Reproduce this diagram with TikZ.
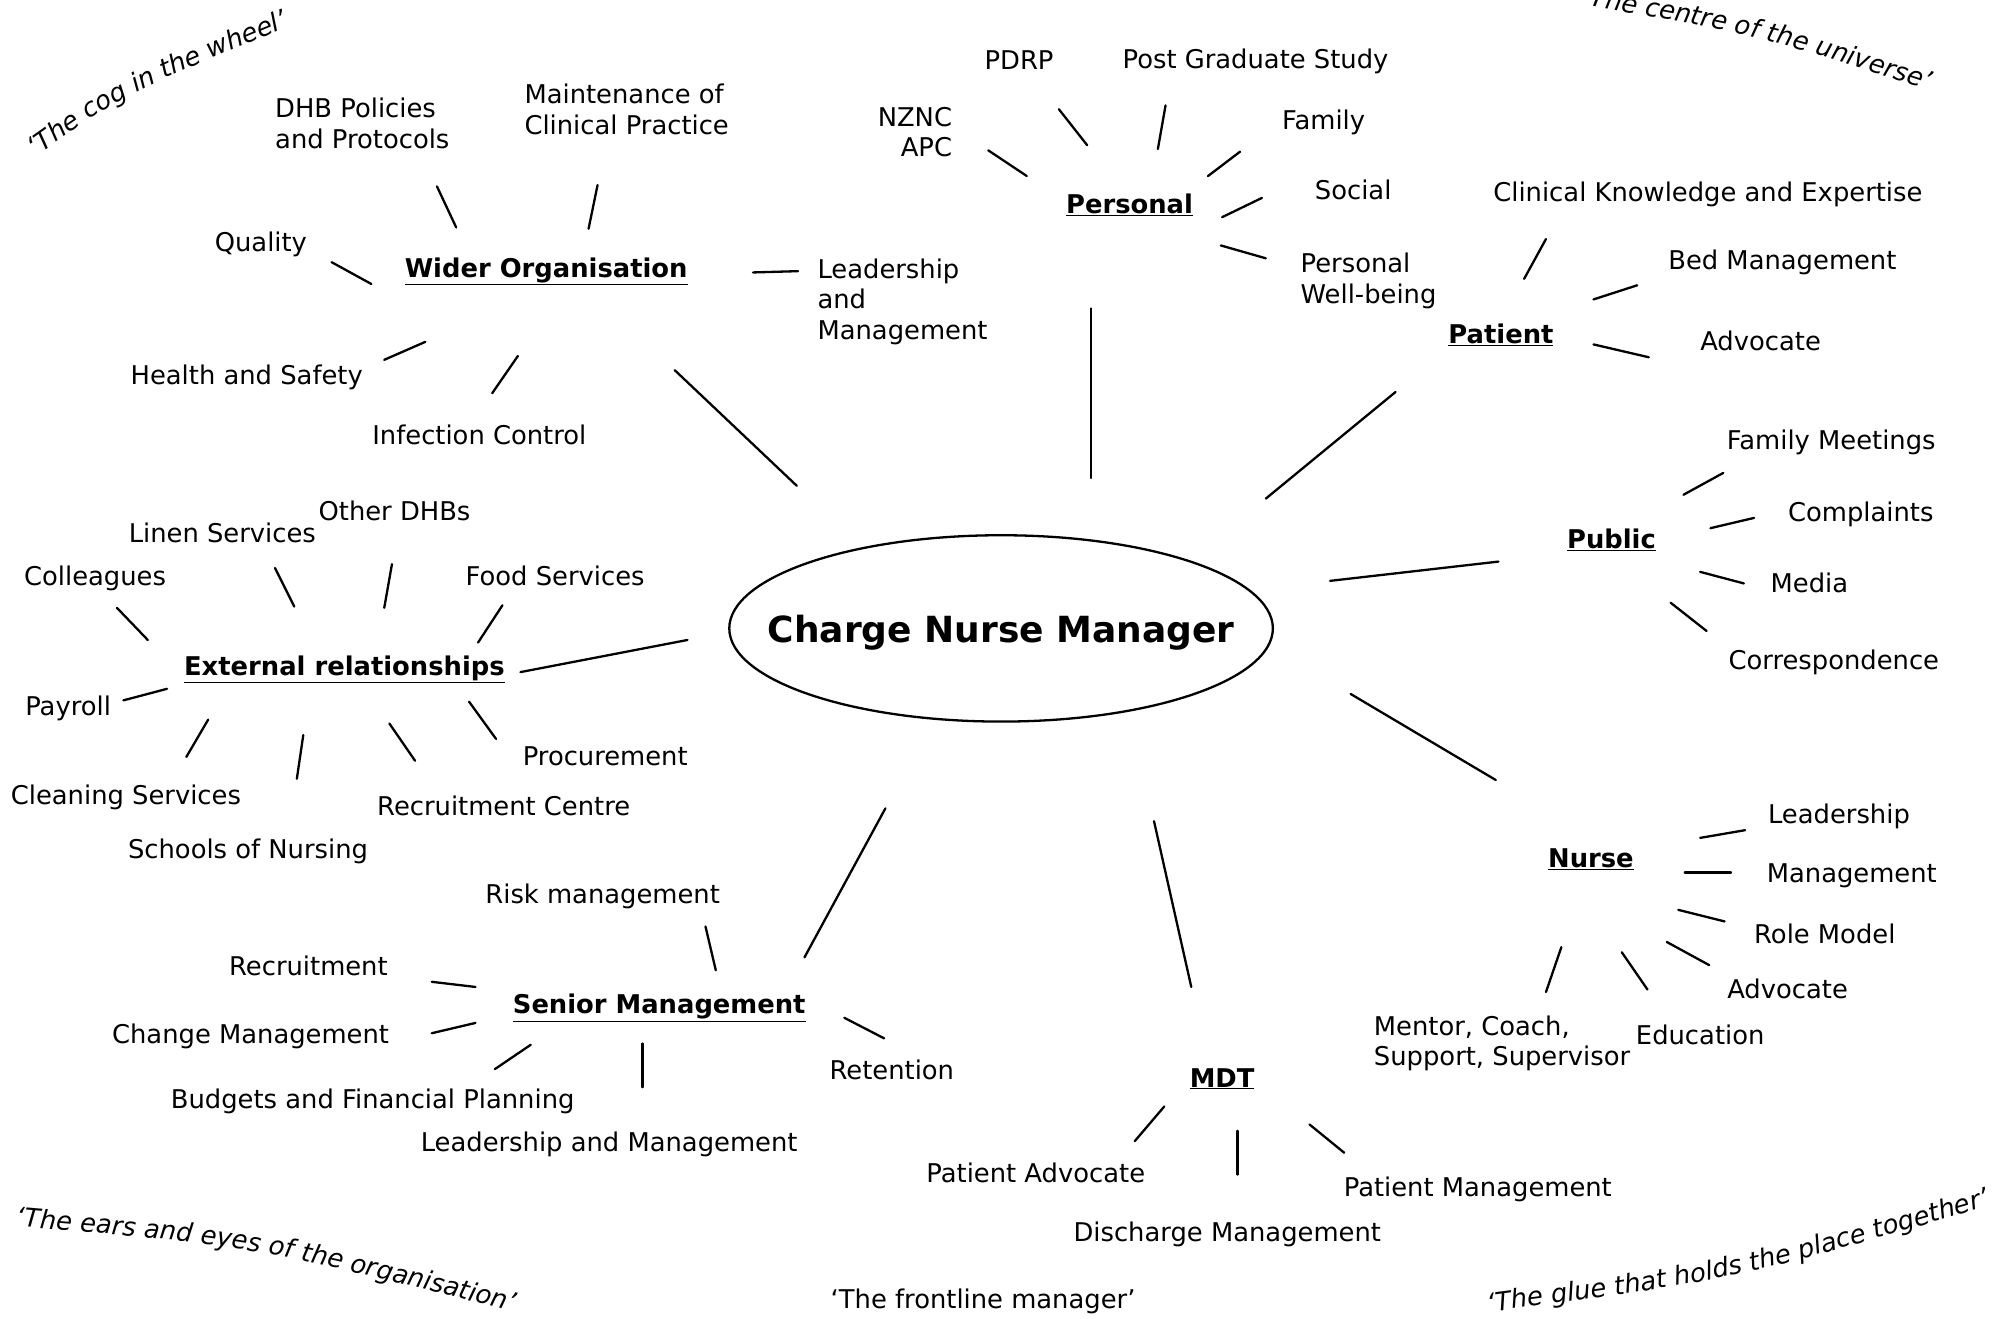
\documentclass[tikz,border=0pt]{standalone}
\usepackage{fontspec}
\setmainfont{DejaVu Sans}
\usetikzlibrary{decorations.text}
\newcommand\mmlink[3]{\coordinate (#1a) at (#2); \coordinate (#1b) at (#3); \draw[conn] (#1a) -- (#1b);}
\newcommand\quotefont{\fontsize{25.8}{30}\selectfont\itshape}
\begin{document}
\begin{tikzpicture}[x=1.285pt,y=-1.285pt,
  lbl/.style={inner sep=0pt, anchor=base, yshift=-2.5pt, font=\fontsize{25.8}{30.8}\selectfont},
  mlbl/.style={inner sep=0pt, font=\fontsize{25.8}{30.8}\selectfont},
  hub/.style={inner sep=0pt, anchor=base, yshift=-2.5pt, font=\fontsize{25.8}{30.8}\selectfont\bfseries},
  conn/.style={line width=2.3pt, line cap=round},
  curvetext/.style={decorate, decoration={text along path, text align=left, text={|\quotefont|#1}}}]
\useasboundingbox (0,0) rectangle (1568,1026);
\clip (0,0) rectangle (1568,1026);

% centre
\node[inner sep=0pt, text depth=0pt, font=\fontsize{36}{40}\selectfont\bfseries] (cnm) at (779,489) {Charge Nurse Manager};
\draw[conn] (cnm.center) ellipse [x radius=211.5, y radius=72.5];

% hubs
\node[hub] (wo) at (425,214) {\underline{Wider Organisation}};
\node[hub] (pers) at (879,164) {\underline{Personal}};
\node[hub] (pat) at (1168,265) {\underline{Patient}};
\node[hub] (pub) at (1254,425) {\underline{Public}};
\node[hub] (nurse) at (1238,673) {\underline{Nurse}};
\node[hub] (mdt) at (951,844) {\underline{MDT}};
\node[hub] (sm) at (513,787) {\underline{Senior Management}};
\node[hub] (ext) at (268,524) {\underline{External relationships}};

% spokes
\mmlink{s1}{525,288}{620,378}
\mmlink{s2}{849,240}{849,372}
\mmlink{s3}{1086,305}{985,388}
\mmlink{s4}{1166,437}{1035,452}
\mmlink{s5}{1051,540}{1164,607}
\mmlink{s6}{898,639}{927,768}
\mmlink{s7}{689,629}{626,745}
\mmlink{s8}{535,498}{405,523}

% Wider Organisation
\node[mlbl, anchor=north west, align=left] (dhb) at (214,76) {DHB Policies\\and Protocols};
\node[mlbl, anchor=north west, align=left] (mcp) at (408,65) {Maintenance of\\Clinical Practice};
\node[lbl] (quality) at (203,194) {Quality};
\node[lbl] (hs) at (192,297) {Health and Safety};
\node[lbl] (ic) at (373,344) {Infection Control};
\node[mlbl, anchor=north west, align=left] (lam) at (636,201) {Leadership\\and\\Management};
\mmlink{w1}{340,145}{355,177}
\mmlink{w2}{465,144}{458,178}
\mmlink{w3}{258,204}{289,221}
\mmlink{w4}{299,280}{331,266}
\mmlink{w5}{383,306}{403,277}
\mmlink{w6}{586,212}{621,211}

% Personal
\node[lbl] (pdrp) at (793,52) {PDRP};
\node[lbl] (pgs) at (977,51) {Post Graduate Study};
\node[mlbl, anchor=north east, align=right] (nznc) at (741,83) {NZNC\\APC};
\node[lbl] (family) at (1030,99) {Family};
\node[lbl] (social) at (1053,153) {Social};
\node[mlbl, anchor=north west, align=left] (pwb) at (1012,197) {Personal\\Well-being};
\mmlink{p1}{824,85}{846,113}
\mmlink{p2}{907,82}{901,116}
\mmlink{p3}{769,117}{799,137}
\mmlink{p4}{965,118}{940,137}
\mmlink{p5}{982,154}{951,169}
\mmlink{p6}{950,191}{985,201}

% Patient
\node[lbl] (cke) at (1329,155) {Clinical Knowledge and Expertise};
\node[lbl] (bed) at (1387,208) {Bed Management};
\node[lbl] (advp) at (1370,271) {Advocate};
\mmlink{a1}{1203,186}{1186,217}
\mmlink{a2}{1274,222}{1240,233}
\mmlink{a3}{1240,268}{1283,278}

% Public
\node[lbl] (fm) at (1425,348) {Family Meetings};
\node[lbl] (compl) at (1448,404) {Complaints};
\node[lbl] (media) at (1408,459) {Media};
\node[lbl] (corr) at (1427,519) {Correspondence};
\mmlink{u1}{1341,368}{1310,385}
\mmlink{u2}{1365,403}{1331,411}
\mmlink{u3}{1323,445}{1357,454}
\mmlink{u4}{1300,469}{1328,491}

% Nurse
\node[lbl] (nlead) at (1431,639) {Leadership};
\node[lbl] (nmgmt) at (1441,685) {Management};
\node[lbl] (role) at (1420,732) {Role Model};
\node[lbl] (nadv) at (1391,775) {Advocate};
\node[lbl] (edu) at (1323,811) {Education};
\node[mlbl, anchor=north west, align=left] (mentor) at (1069,790) {Mentor, Coach,\\Support, Supervisor};
\mmlink{n1}{1358,646}{1323,652}
\mmlink{n2}{1311,679}{1347,679}
\mmlink{n3}{1306,708}{1342,717}
\mmlink{n4}{1297,733}{1330,751}
\mmlink{n5}{1262,741}{1282,770}
\mmlink{n6}{1215,737}{1203,772}

% MDT
\node[lbl] (padv) at (806,918) {Patient Advocate};
\node[lbl] (dis) at (955,964) {Discharge Management};
\node[lbl] (pmgmt) at (1150,929) {Patient Management};
\mmlink{m1}{906,861}{883,888}
\mmlink{m2}{963,880}{963,914}
\mmlink{m3}{1019,875}{1046,897}

% Senior Management
\node[lbl] (risk) at (469,701) {Risk management};
\node[lbl] (recr) at (240,757) {Recruitment};
\node[lbl] (chg) at (195,810) {Change Management};
\node[lbl] (bud) at (290,861) {Budgets and Financial Planning};
\node[lbl] (slm) at (474,894) {Leadership and Management};
\node[lbl] (ret) at (694,838) {Retention};
\mmlink{r1}{549,721}{557,755}
\mmlink{r2}{336,764}{370,768}
\mmlink{r3}{336,804}{370,796}
\mmlink{r4}{385,832}{413,813}
\mmlink{r5}{500,812}{500,846}
\mmlink{r6}{657,792}{688,808}

% External relationships
\node[lbl] (coll) at (74,454) {Colleagues};
\node[lbl] (linen) at (173,420) {Linen Services};
\node[lbl] (other) at (307,403) {Other DHBs};
\node[lbl] (food) at (432,454) {Food Services};
\node[lbl] (payroll) at (53,555) {Payroll};
\node[lbl] (clean) at (98,624) {Cleaning Services};
\node[lbl] (school) at (193,666) {Schools of Nursing};
\node[lbl] (rc) at (392,633) {Recruitment Centre};
\node[lbl] (proc) at (471,594) {Procurement};
\mmlink{e1}{91,473}{115,498}
\mmlink{e2}{214,442}{229,472}
\mmlink{e3}{305,439}{299,473}
\mmlink{e4}{391,471}{372,500}
\mmlink{e5}{96,545}{130,536}
\mmlink{e6}{162,560}{145,589}
\mmlink{e7}{236,572}{231,606}
\mmlink{e8}{303,563}{323,592}
\mmlink{e9}{365,546}{386,575}

% quotes
\node[lbl] (front) at (765,1016) {‘The frontline manager’};
\path[curvetext={‘The cog in the wheel’}] (28,122) .. controls (95,74) .. (250,10);
\path[curvetext={‘The centre of the universe’}] (1230,3) .. controls (1380,30) .. (1530,80);
\path[curvetext={‘The ears and eyes of the organisation’}] (12,954) .. controls (200,970) .. (420,1026);
\path[curvetext={‘The glue that holds the place together’}] (1158,1021) .. controls (1350,996) .. (1570,932);
\end{tikzpicture}
\end{document}
